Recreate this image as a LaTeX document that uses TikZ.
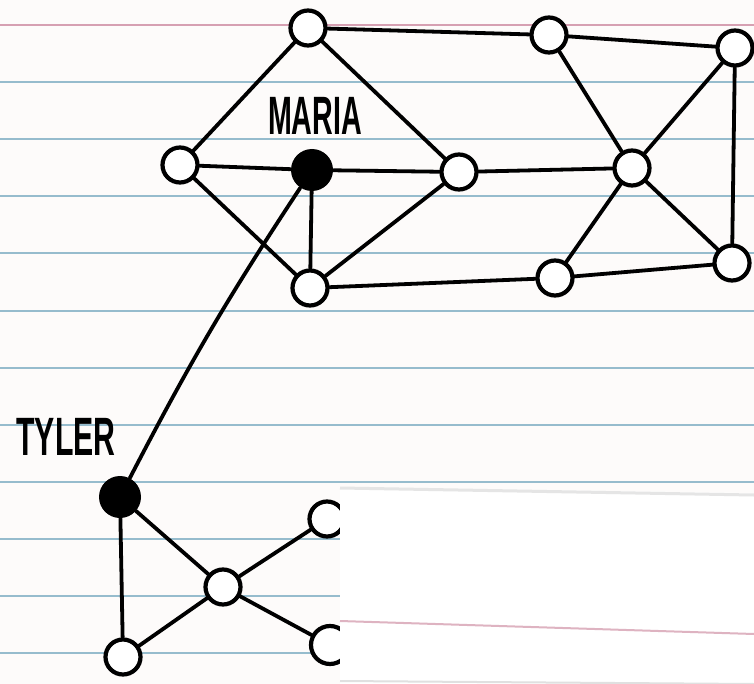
\documentclass[tikz,border=0pt]{standalone}
\usepackage{fontspec}
\setmainfont{Liberation Sans}
\definecolor{paper}{RGB}{253,251,250}
\definecolor{rule}{RGB}{150,188,205}
\definecolor{margin}{RGB}{214,160,178}
\tikzset{hole/.style={circle,draw,fill=white,line width=2.1pt,minimum size=17.5pt,inner sep=0pt},
  dot/.style={circle,fill=black,minimum size=21pt,inner sep=0pt},
  link/.style={line width=1.9pt,line cap=round},
  tag/.style={font=\bfseries\fontsize{27}{27}\selectfont,inner sep=0pt}}

\begin{document}
\begin{tikzpicture}[x=.5pt,y=-.5pt]
  \path[use as bounding box,fill=paper] (0,0) rectangle (754,684);
  \foreach \k in {1,...,11}{\draw[rule,line width=1pt] (0,25+57.1*\k)--(754,25+57.1*\k);}
  \draw[margin,line width=1.4pt] (0,25)--(754,25);
  % upper group
  \node[hole] (apex) at (308,28) {};
  \node[hole] (west) at (180,165) {};
  \node[dot] (maria) at (312,170) {};
  \node[hole] (south) at (310,288) {};
  \node[hole] (east) at (459,172) {};
  \node[hole] (topmid) at (549,35) {};
  \node[hole] (topright) at (735,48) {};
  \node[hole] (hub) at (632,168) {};
  \node[hole] (botmid) at (555,278) {};
  \node[hole] (botright) at (732,263) {};
  % lower group
  \node[dot] (tyler) at (120,497) {};
  \node[hole] (foot) at (123,657) {};
  \node[hole] (cross) at (223,587) {};
  \node[hole] (cutup) at (327,519) {};
  \node[hole,minimum size=19pt] (cutlow) at (330,645) {};
  \node[tag] (mlabel) at (315,116) {\scalebox{.53}[1]{MARIA}};
  \node[tag] (tlabel) at (66,437) {\scalebox{.56}[1]{TYLER}};
  \foreach \a/\b in {apex/topmid,apex/west,apex/east,west/maria,west/south,maria/east,
    maria/south,south/east,south/botmid,east/hub,topmid/hub,topmid/topright,
    topright/hub,topright/botright,hub/botmid,hub/botright,botmid/botright,
    tyler/foot,tyler/cross,foot/cross,cross/cutup,cross/cutlow}
    \draw[link] (\a)--(\b);
  \draw[link] (maria) to[bend right=3] (tyler);
  % torn-off sheet on top
  \fill[white] (340,487)--(754,493)--(754,684)--(340,684)--cycle;
  \draw[black!10,line width=1.5pt] (340,488)--(754,495);
  \draw[margin!80,line width=1pt] (340,621)--(754,634);
  \draw[black!12,line width=1pt] (340,681)--(754,684);
\end{tikzpicture}
\end{document}
